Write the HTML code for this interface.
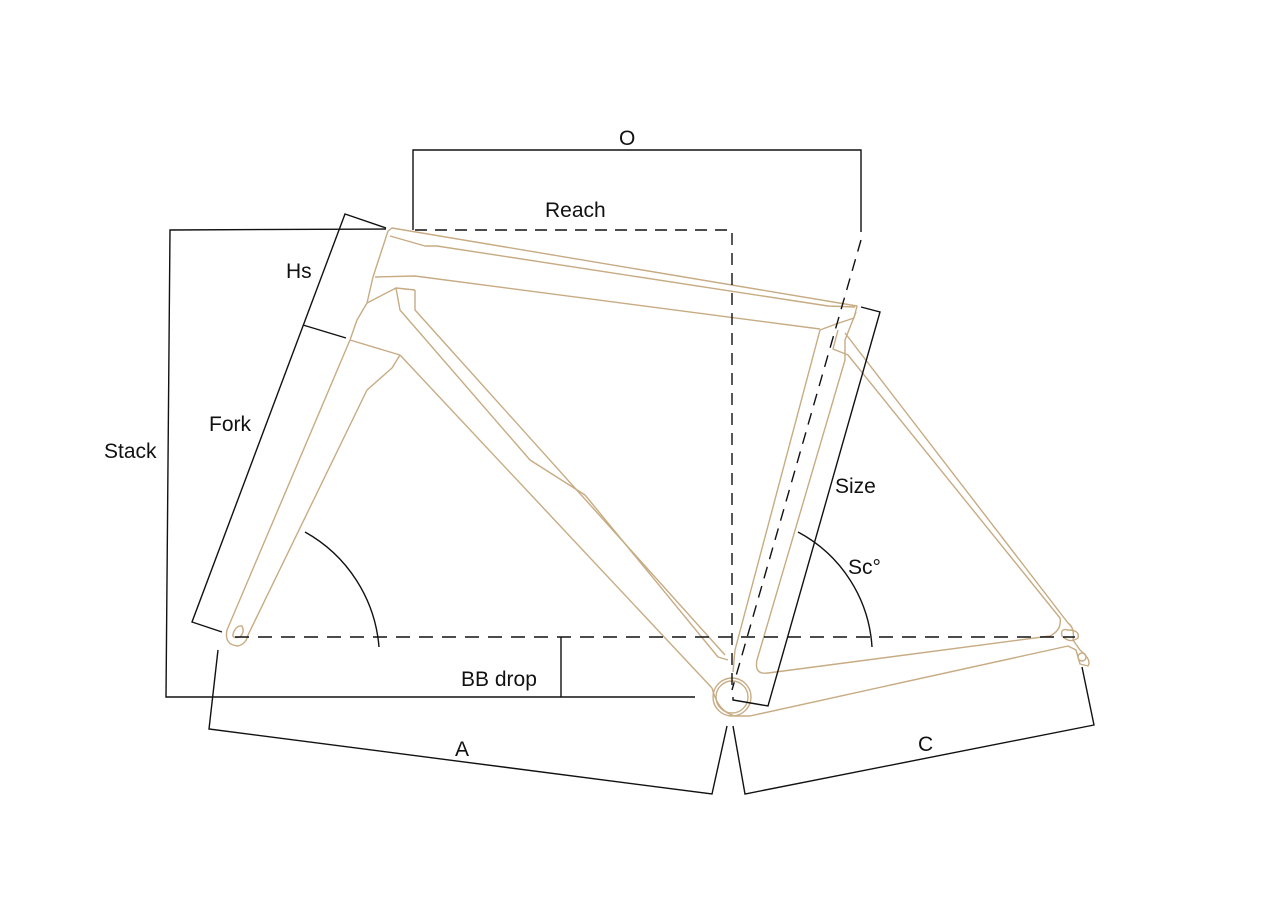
<!DOCTYPE html>
<html><head><meta charset="utf-8"><style>
html,body{margin:0;padding:0;background:#fff;}
svg{display:block;}
text{font-family:"Liberation Sans",sans-serif;font-size:21px;fill:#111;}
</style></head><body>
<svg width="1280" height="906" viewBox="0 0 1280 906" xmlns="http://www.w3.org/2000/svg">
<g fill="none" stroke="#c7ab83" stroke-width="1.4" stroke-linejoin="round">
  <!-- top tube -->
  <path d="M388,231 L392,228 L857,306 L854,318 L836,324 L820,330"/>
  <path d="M390,236 L425,246 L437,246 L828,306 L855,307"/>
  <path d="M375,277 L415,276 L820,329"/>
  <!-- head tube -->
  <path d="M388,231 L373,277 L367,303 L357,320 L350,340"/>
  <path d="M367,303 L396,288 L415,290"/>
  <path d="M350,340 L400,355"/>
  <!-- fork -->
  <path d="M350,340 L227,630 Q224,645 238,646 Q246,644 248,635 L367,390 L392,368 L400,355"/>
  <path d="M233,634 Q236,625 242,626 Q245,632 240,637 Q232,639 233,634"/>
  <!-- down tube -->
  <path d="M396,288 L400,310 L530,460 L585,495 L718,657 L728,660"/>
  <path d="M415,290 L415,310 L725,655"/>
  <path d="M400,355 L712,688"/>
  <!-- seat tube -->
  <path d="M820,330 L735,650 L733,672"/>
  <path d="M856,312 L845,340 L845,360 L757,660 Q754,675 768,673 L1050,636 Q1062,630 1060,618 L848,355 L833,349 L838,330"/>
  <path d="M845,333 L1068,623 Q1075,628 1073,640 L1080,650 Q1092,660 1088,666 L1080,664 L1076,650 L1068,646 L750,716"/>
  <circle cx="1082" cy="657" r="4"/>
  <path d="M1062,636 Q1060,628 1068,630 Q1080,630 1078,638 Q1070,644 1062,636"/>
  <!-- BB -->
  <circle cx="732" cy="697" r="19"/>
  <circle cx="732" cy="697" r="16"/>
  <path d="M712,688 Q718,712 735,716 L750,716"/>
</g>
<g fill="none" stroke="#111" stroke-width="1.4">
  <polyline points="413,230 413,150 861,150 861,232"/>
  <path d="M415,230 L732,230 L732,690" stroke-dasharray="12,8"/>
  <path d="M861,240 L732,690" stroke-dasharray="12,8"/>
  <path d="M235,637 L1075,637" stroke-dasharray="14,9"/>
  <polyline points="386,229 170,230 166,697 695,697"/>
  <polyline points="386,228 345,214 192,622 222,632"/>
  <line x1="303" y1="325" x2="346" y2="338"/>
  <line x1="561" y1="637" x2="561" y2="697"/>
  <polyline points="733,697 733,700 768,706 880,312 861,307"/>
  <polyline points="218,650 209,729 712,794 727,726"/>
  <polyline points="733,726 745,794 1094,725 1082,667"/>
  <path d="M305,532 A145,145 0 0 1 379,647"/>
  <path d="M798,532 A140,140 0 0 1 872,647"/>
</g>
<text x="619" y="145">O</text>
<text x="545" y="217">Reach</text>
<text x="286" y="278">Hs</text>
<text x="209" y="431">Fork</text>
<text x="104" y="458">Stack</text>
<text x="835" y="493">Size</text>
<text x="848" y="574">Sc°</text>
<text x="461" y="686">BB drop</text>
<text x="455" y="756">A</text>
<text x="918" y="751">C</text>
</svg>
</body></html>
